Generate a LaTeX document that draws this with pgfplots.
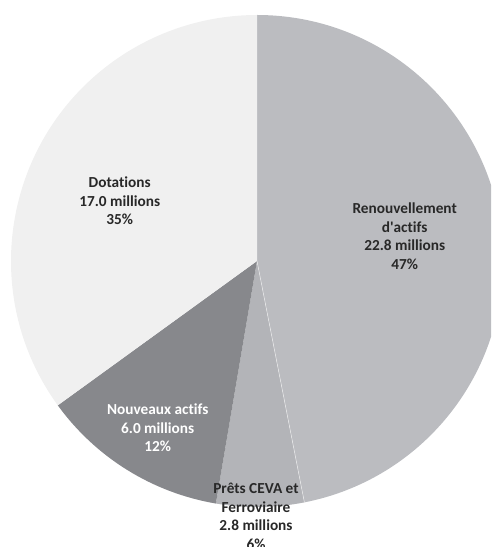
\documentclass[border=0pt]{standalone}
\usepackage{pgfplots}
\usepackage{pgfplotstable}
\pgfplotsset{compat=1.18}
\usepackage{fontspec}
\setmainfont{Carlito}[Ligatures={NoCommon}]
\definecolor{renov}{RGB}{187,188,192}
\definecolor{prets}{RGB}{179,180,184}
\definecolor{nouv}{RGB}{135,136,140}
\definecolor{dot}{RGB}{240,240,240}
\definecolor{txt}{RGB}{40,40,40}
\pgfplotstableread{
label value
Renouvellement 22.8
Prets 2.8
Nouveaux 6.0
Dotations 17.0
}\piedata
\pgfplotstablegetelem{0}{value}\of\piedata \let\vA\pgfplotsretval
\pgfplotstablegetelem{1}{value}\of\piedata \let\vB\pgfplotsretval
\pgfplotstablegetelem{2}{value}\of\piedata \let\vC\pgfplotsretval
\pgfplotstablegetelem{3}{value}\of\piedata \let\vD\pgfplotsretval
\pgfmathsetmacro\tot{\vA+\vB+\vC+\vD}
\pgfmathsetmacro\aA{90}
\pgfmathsetmacro\aB{\aA-360*\vA/\tot}
\pgfmathsetmacro\aC{\aB-360*\vB/\tot}
\pgfmathsetmacro\aD{\aC-360*\vC/\tot}
\pgfmathsetmacro\aE{\aD-360*\vD/\tot}
\def\cx{257}\def\cy{286}\def\R{246}
\begin{document}%
\begin{tikzpicture}
\begin{axis}[
  x=1pt, y=1pt, xmin=0, xmax=491, ymin=0, ymax=547,
  scale only axis, hide axis, clip=true,
]
\addplot[draw=none] coordinates {(0,0) (491,547)};
\fill[renov] (axis cs:\cx,\cy) -- (axis cs:{\cx+\R*cos(\aA)},{\cy+\R*sin(\aA)}) arc[start angle=\aA, end angle=\aB, radius=\R pt] -- cycle;
\fill[prets] (axis cs:\cx,\cy) -- (axis cs:{\cx+\R*cos(\aB)},{\cy+\R*sin(\aB)}) arc[start angle=\aB, end angle=\aC, radius=\R pt] -- cycle;
\fill[nouv] (axis cs:\cx,\cy) -- (axis cs:{\cx+\R*cos(\aC)},{\cy+\R*sin(\aC)}) arc[start angle=\aC, end angle=\aD, radius=\R pt] -- cycle;
\fill[dot] (axis cs:\cx,\cy) -- (axis cs:{\cx+\R*cos(\aD)},{\cy+\R*sin(\aD)}) arc[start angle=\aD, end angle=\aE, radius=\R pt] -- cycle;
\draw[white!70!renov, line width=0.5pt] (axis cs:\cx,\cy) -- (axis cs:{\cx+\R*cos(\aB)},{\cy+\R*sin(\aB)});
\begin{scope}[every node/.style={align=center, font=\fontsize{15.3}{18.7}\selectfont\bfseries, inner sep=0pt}]
\node[txt] at (axis cs:404.7,310.7) {Renouvellement\\d\textquotesingle actifs\\22.8 millions\\47\%};
\node[txt] at (axis cs:119.7,346.3) {Dotations\\17.0 millions\\35\%};
\node[white] at (axis cs:157.7,119.3) {Nouveaux actifs\\6.0 millions\\12\%};
\node[txt] at (axis cs:256,30.8) {Prêts CEVA et\\Ferroviaire\\2.8 millions\\6\%};
\end{scope}
\end{axis}
\pgfresetboundingbox
\path[use as bounding box] (0,0) rectangle (491pt,547pt);
\end{tikzpicture}%
\end{document}
